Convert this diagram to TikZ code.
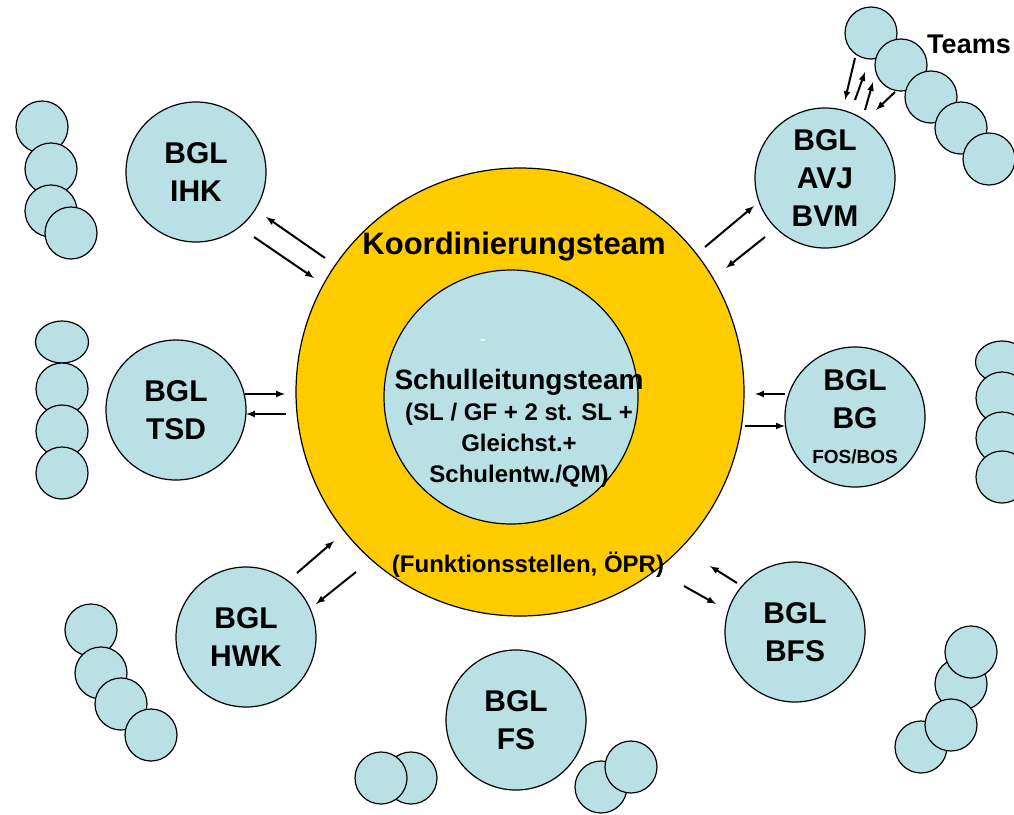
\documentclass[tikz,border=0pt]{standalone}
\usepackage{fontspec}
\setmainfont{Liberation Sans}
\usetikzlibrary{arrows,shapes.geometric}
\definecolor{bgl_blue}{RGB}{185, 224, 228}
\definecolor{kt_yellow}{RGB}{255, 204, 0}
\tikzstyle{bn}=[circle,fill=bgl_blue,draw=black,line width=1.2pt,inner sep=0pt,
  minimum size=140pt,align=center,font=\bfseries\fontsize{30}{38}\selectfont]
\tikzstyle{sn}=[circle,fill=bgl_blue,draw=black,line width=1.2pt,inner sep=0pt,
  minimum size=52pt]
\tikzstyle{se}=[ellipse,fill=bgl_blue,draw=black,line width=1.2pt,inner sep=0pt,
  minimum width=53pt,minimum height=42pt]
\tikzstyle{yn}=[circle,fill=kt_yellow,draw=black,line width=1.2pt,inner sep=0pt,
  minimum size=448pt]
\tikzstyle{ln}=[circle,fill=bgl_blue,draw=black,line width=1.2pt,inner sep=0pt,
  minimum size=254pt]
\tikzstyle{lbl}=[align=center,font=\bfseries\fontsize{24}{31}\selectfont]
\tikzstyle{arr}=[-latex,line width=2pt]
\tikzstyle{none}=[inner sep=0pt]

\begin{document}
\begin{tikzpicture}[x=1pt,y=-1pt]
            \useasboundingbox (0,0) rectangle (1014,814);
            % team chains
            \node [style=sn] (t0) at (42, 127) {};
            \node [style=sn] (t1) at (51, 169) {};
            \node [style=sn] (t2) at (51, 211) {};
            \node [style=sn] (t3) at (71, 233) {};
            \node [style=se] (t4) at (62, 342) {};
            \node [style=sn] (t5) at (62, 389) {};
            \node [style=sn] (t6) at (62, 431) {};
            \node [style=sn] (t7) at (62, 473) {};
            \node [style=se] (t8) at (1002, 362) {};
            \node [style=sn] (t9) at (1002, 398) {};
            \node [style=sn] (t10) at (1002, 438) {};
            \node [style=sn] (t11) at (1002, 477) {};
            \node [style=sn] (t12) at (871, 33) {};
            \node [style=sn] (t13) at (901, 65) {};
            \node [style=sn] (t14) at (931, 97) {};
            \node [style=sn] (t15) at (961, 128) {};
            \node [style=sn] (t16) at (989, 159) {};
            \node [style=sn] (t17) at (91, 630) {};
            \node [style=sn] (t18) at (101, 673) {};
            \node [style=sn] (t19) at (121, 704) {};
            \node [style=sn] (t20) at (151, 735) {};
            \node [style=sn] (t21) at (961, 684) {};
            \node [style=sn] (t22) at (921, 747) {};
            \node [style=sn] (t23) at (971, 652) {};
            \node [style=sn] (t24) at (951, 725) {};
            \node [style=sn] (t25) at (411, 778) {};
            \node [style=sn] (t26) at (381, 778) {};
            \node [style=sn] (t27) at (601, 787) {};
            \node [style=sn] (t28) at (631, 767) {};
            \node [font=\bfseries\fontsize{27}{30}\selectfont] (teams) at (969, 44) {Teams};
            % BGL circles
            \node [style=bn] (0) at (196, 172) {BGL\\IHK};
            \node [style=bn] (1) at (825, 178) {BGL\\AVJ\\BVM};
            \node [style=bn] (2) at (176, 410) {BGL\\TSD};
            \node [style=bn] (3) at (855, 417) {BGL\\BG\\[-3pt]{\fontsize{19}{22}\selectfont FOS/BOS}};
            \node [style=bn] (4) at (246, 637) {BGL\\HWK};
            \node [style=bn] (5) at (795, 632) {BGL\\BFS};
            \node [style=bn] (6) at (516, 720) {BGL\\FS};
            % centre
            \node [style=yn] (7) at (520, 392) {};
            \node [style=ln] (8) at (511, 397) {};
            \node [font=\bfseries\fontsize{31}{34}\selectfont] (9) at (514, 247) {Koordinierungsteam};
            \node [style=lbl] (10) at (519, 428) {{\fontsize{28}{31}\selectfont Schulleitungsteam}\\(SL / GF + 2 st. SL +\\Gleichst.+\\Schulentw./QM)};
            \node [style=lbl] (11) at (528, 565) {(Funktionsstellen, ÖPR)};
            \node [text=white,font=\bfseries\fontsize{16}{18}\selectfont] (12) at (483, 342) {-};
            % arrow ends
            \node [style=none] (a0) at (855, 58) {};
            \node [style=none] (a1) at (845, 100) {};
            \node [style=none] (a2) at (855, 100) {};
            \node [style=none] (a3) at (865, 72) {};
            \node [style=none] (a4) at (865, 110) {};
            \node [style=none] (a5) at (873, 82) {};
            \node [style=none] (a6) at (895, 92) {};
            \node [style=none] (a7) at (876, 110) {};
            \node [style=none] (b0) at (325, 258) {};
            \node [style=none] (b1) at (266, 217) {};
            \node [style=none] (b2) at (254, 237) {};
            \node [style=none] (b3) at (314, 278) {};
            \node [style=none] (c0) at (705, 247) {};
            \node [style=none] (c1) at (754, 206) {};
            \node [style=none] (c2) at (765, 237) {};
            \node [style=none] (c3) at (726, 268) {};
            \node [style=none] (d0) at (245, 394) {};
            \node [style=none] (d1) at (285, 394) {};
            \node [style=none] (d2) at (286, 414) {};
            \node [style=none] (d3) at (246, 414) {};
            \node [style=none] (e0) at (785, 394) {};
            \node [style=none] (e1) at (755, 394) {};
            \node [style=none] (e2) at (745, 426) {};
            \node [style=none] (e3) at (785, 426) {};
            \node [style=none] (f0) at (297, 573) {};
            \node [style=none] (f1) at (334, 541) {};
            \node [style=none] (f2) at (356, 572) {};
            \node [style=none] (f3) at (316, 604) {};
            \node [style=none] (g0) at (737, 583) {};
            \node [style=none] (g1) at (710, 566) {};
            \node [style=none] (g2) at (684, 586) {};
            \node [style=none] (g3) at (716, 604) {};
            \draw [style=arr] (a0.center) to (a1.center);
            \draw [style=arr] (a2.center) to (a3.center);
            \draw [style=arr] (a4.center) to (a5.center);
            \draw [style=arr] (a6.center) to (a7.center);
            \draw [style=arr] (b0.center) to (b1.center);
            \draw [style=arr] (b2.center) to (b3.center);
            \draw [style=arr] (c0.center) to (c1.center);
            \draw [style=arr] (c2.center) to (c3.center);
            \draw [style=arr] (d0.center) to (d1.center);
            \draw [style=arr] (d2.center) to (d3.center);
            \draw [style=arr] (e0.center) to (e1.center);
            \draw [style=arr] (e2.center) to (e3.center);
            \draw [style=arr] (f0.center) to (f1.center);
            \draw [style=arr] (f2.center) to (f3.center);
            \draw [style=arr] (g0.center) to (g1.center);
            \draw [style=arr] (g2.center) to (g3.center);
    \end{tikzpicture}
\end{document}
